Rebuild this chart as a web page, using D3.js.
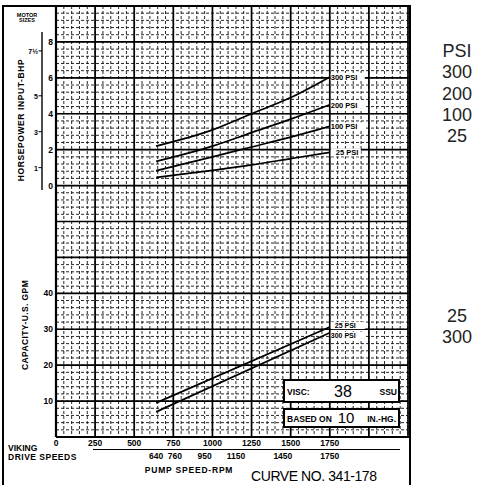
<!DOCTYPE html>
<html>
<head>
<meta charset="utf-8">
<script src="https://cdn.jsdelivr.net/npm/d3@7"></script>
<style>
  body { margin: 0; background: #fff; }
  text { font-family: "Liberation Sans", Arial, sans-serif; fill: #000; }
  .lbl { font-weight: bold; font-size: 8.5px; }
</style>
</head>
<body>
<div id="chart"></div>
<script>
// ---- data ----
var rpm = [640, 1000, 1250, 1500, 1750];
var hp300 = [2.2, 3.1, 4.0, 4.9, 6.05];
var hp200 = [1.35, 2.2, 2.95, 3.7, 4.5];
var hp100 = [0.83, 1.6, 2.15, 2.7, 3.3];
var hp25 = [0.45, 0.85, 1.15, 1.5, 1.85];
var hpNames = ["300 PSI", "200 PSI", "100 PSI", "25 PSI"];

var gpmRpm = [640, 1750];
var gpm25 = [9.5, 30.6];
var gpm300 = [7.0, 29.0];
var gpmNames = ["25 PSI", "300 PSI"];

var driveTicks = [0, 250, 500, 750, 1000, 1250, 1500, 1750];
var pumpTicks = [640, 760, 950, 1150, 1450, 1750];
var hpTicks = [0, 2, 4, 6, 8];
var gpmTicks = [10, 20, 30, 40];
var motorSizes = [7.5, 5, 3, 1];
var motorLabels = ["7½", "5", "3", "1"];

var sideTop = ["PSI", "300", "200", "100", "25"];
var sideBottom = ["25", "300"];

// ---- layout ----
var W = 479, H = 485;
var svg = d3.select("#chart").append("svg")
  .attr("width", W).attr("height", H);

var x = d3.scaleLinear().domain([0, 2250]).range([56, 408]);
var yGpm = d3.scaleLinear().domain([0, 120]).range([437, 6]);
var yHp = d3.scaleLinear().domain([-14, 10]).range([437, 6]);

// minor grid (dotted like the scan)
var grid = svg.append("g");
grid.selectAll(".vmin").data(d3.range(0, 2251, 50))
  .enter().append("line")
  .attr("x1", d => x(d)).attr("x2", d => x(d))
  .attr("y1", yGpm(120)).attr("y2", yGpm(0))
  .attr("stroke", "#111").attr("stroke-width", 0.9)
  .attr("stroke-dasharray", "3,2");
grid.selectAll(".hmin").data(d3.range(0, 121, 2))
  .enter().append("line")
  .attr("x1", x(0)).attr("x2", x(2250))
  .attr("y1", d => yGpm(d)).attr("y2", d => yGpm(d))
  .attr("stroke", "#111").attr("stroke-width", 0.9)
  .attr("stroke-dasharray", "3,2");

// major grid
grid.selectAll(".vmaj").data(d3.range(0, 2251, 250))
  .enter().append("line")
  .attr("x1", d => x(d)).attr("x2", d => x(d))
  .attr("y1", yGpm(120)).attr("y2", yGpm(0))
  .attr("stroke", "#000").attr("stroke-width", 1.7);
grid.selectAll(".hmaj").data(d3.range(0, 121, 10))
  .enter().append("line")
  .attr("x1", x(0)).attr("x2", x(2250))
  .attr("y1", d => yGpm(d)).attr("y2", d => yGpm(d))
  .attr("stroke", "#000").attr("stroke-width", 1.7);

// outer frame
svg.append("path")
  .attr("d", "M3,485 V6 H410 V485")
  .attr("fill", "none").attr("stroke", "#000").attr("stroke-width", 2);
svg.append("line")
  .attr("x1", x(0)).attr("x2", x(0)).attr("y1", 6).attr("y2", yGpm(0))
  .attr("stroke", "#000").attr("stroke-width", 2.2);
svg.append("line")
  .attr("x1", x(0)).attr("x2", 410).attr("y1", yGpm(0)).attr("y2", yGpm(0))
  .attr("stroke", "#000").attr("stroke-width", 2.2);

// ---- curves ----
var line = d3.line().curve(d3.curveMonotoneX);
var hpSeries = [hp300, hp200, hp100, hp25];
hpSeries.forEach(function(s, i) {
  svg.append("path")
    .attr("d", line(rpm.map((r, j) => [x(r), yHp(s[j])])))
    .attr("fill", "none").attr("stroke", "#000").attr("stroke-width", 1.7);
  svg.append("rect")
    .attr("x", x(1750) + 1).attr("y", yHp(s[s.length - 1]) - 4)
    .attr("width", i == 3 ? 30 : 34).attr("height", 8)
    .attr("fill", "#fff");
  svg.append("text").attr("class", "lbl")
    .attr("x", x(1750) + (i == 3 ? 6 : 1)).attr("y", yHp(s[s.length - 1]) + 3)
    .style("font-size", "7.5px")
    .text(hpNames[i]);
});

var gpmSeries = [gpm25, gpm300];
gpmSeries.forEach(function(s, i) {
  svg.append("path")
    .attr("d", line(gpmRpm.map((r, j) => [x(r), yGpm(s[j])])))
    .attr("fill", "none").attr("stroke", "#000").attr("stroke-width", 1.7);
  svg.append("rect")
    .attr("x", x(1750) + 1).attr("y", yGpm(s[s.length - 1]) + (i == 0 ? -5 : -1))
    .attr("width", 34).attr("height", 7)
    .attr("fill", "#fff");
  svg.append("text").attr("class", "lbl")
    .attr("x", x(1750) + (i == 0 ? 5 : 1)).attr("y", yGpm(s[s.length - 1]) + (i == 0 ? 1 : 5))
    .style("font-size", "7px")
    .text(gpmNames[i]);
});

// ---- axis tick labels ----
svg.selectAll(".hpt").data(hpTicks).enter().append("text").attr("class", "lbl")
  .attr("x", 53).attr("y", d => yHp(d) + 3)
  .attr("text-anchor", "end").text(d => d);
svg.selectAll(".gpt").data(gpmTicks).enter().append("text").attr("class", "lbl")
  .attr("x", 53).attr("y", d => yGpm(d) + 3)
  .attr("text-anchor", "end").text(d => d);

svg.selectAll(".dt").data(driveTicks).enter().append("text").attr("class", "lbl")
  .attr("x", d => x(d)).attr("y", 446)
  .attr("text-anchor", "middle").text(d => d);
svg.append("line")
  .attr("x1", 93).attr("x2", 400).attr("y1", 449.5).attr("y2", 449.5)
  .attr("stroke", "#000").attr("stroke-width", 1);
svg.selectAll(".pt").data(pumpTicks).enter().append("text").attr("class", "lbl")
  .attr("x", d => x(d)).attr("y", 459)
  .attr("text-anchor", "middle").text(d => d);

svg.append("text").attr("class", "lbl").attr("x", 8).attr("y", 451).text("VIKING");
svg.append("text").attr("class", "lbl").attr("x", 8).attr("y", 460)
  .style("letter-spacing", "0.5px").text("DRIVE SPEEDS");
svg.append("text").attr("class", "lbl").attr("x", 189).attr("y", 473)
  .attr("text-anchor", "middle").style("letter-spacing", "0.8px").text("PUMP SPEED-RPM");
svg.append("text").attr("x", 314).attr("y", 481)
  .attr("text-anchor", "middle").style("font-size", "14px")
  .attr("textLength", 126).text("CURVE NO. 341-178");

// ---- axis titles ----
svg.append("text").attr("class", "lbl")
  .attr("transform", "translate(24," + 120 + ") rotate(-90)")
  .attr("text-anchor", "middle").style("letter-spacing", "0.6px")
  .text("HORSEPOWER INPUT-BHP");
svg.append("text").attr("class", "lbl")
  .attr("transform", "translate(28," + 325 + ") rotate(-90)")
  .attr("text-anchor", "middle").style("letter-spacing", "0.4px")
  .text("CAPACITY-U.S. GPM");

// motor sizes
svg.append("text").attr("class", "lbl").attr("x", 27).attr("y", 17)
  .attr("text-anchor", "middle").style("font-size", "5.5px").text("MOTOR");
svg.append("text").attr("class", "lbl").attr("x", 27).attr("y", 22)
  .attr("text-anchor", "middle").style("font-size", "5.5px").text("SIZES");
svg.append("line")
  .attr("x1", 42).attr("x2", 42).attr("y1", 32).attr("y2", 190)
  .attr("stroke", "#000").attr("stroke-width", 1.4);
svg.selectAll(".ms").data(motorSizes).enter().append("line")
  .attr("x1", 38.5).attr("x2", 42).attr("y1", d => yHp(d)).attr("y2", d => yHp(d))
  .attr("stroke", "#000").attr("stroke-width", 1);
svg.selectAll(".msl").data(motorSizes).enter().append("text").attr("class", "lbl")
  .attr("x", 38).attr("y", d => yHp(d) + 3)
  .attr("text-anchor", "end").style("font-size", "7px")
  .text((d, i) => motorLabels[i]);

// ---- condition boxes ----
var boxes = [{ y: 380, h: 22 }, { y: 409, h: 18 }];
svg.selectAll(".box").data(boxes).enter().append("rect")
  .attr("x", 284).attr("y", d => d.y).attr("width", 115).attr("height", d => d.h)
  .attr("fill", "#fff").attr("stroke", "#000").attr("stroke-width", 2);
svg.append("text").attr("class", "lbl").attr("x", 287).attr("y", 395).text("VISC:");
svg.append("text").attr("x", 343).attr("y", 397).attr("text-anchor", "middle")
  .style("font-size", "16px").text("38");
svg.append("text").attr("class", "lbl").attr("x", 397).attr("y", 395)
  .attr("text-anchor", "end").text("SSU");
svg.append("text").attr("class", "lbl").attr("x", 287).attr("y", 422).text("BASED ON");
svg.append("text").attr("x", 346).attr("y", 423).attr("text-anchor", "middle")
  .style("font-size", "15px").text("10");
svg.append("text").attr("class", "lbl").attr("x", 396).attr("y", 422)
  .attr("text-anchor", "end").text("IN.-HG.");

// ---- side legend ----
svg.selectAll(".st").data(sideTop).enter().append("text")
  .attr("x", 457).attr("y", (d, i) => 57 + i * 21.3)
  .attr("text-anchor", "middle").style("font-size", "18px").style("fill", "#222")
  .text(d => d);
svg.selectAll(".sb").data(sideBottom).enter().append("text")
  .attr("x", 457).attr("y", (d, i) => 322 + i * 21.3)
  .attr("text-anchor", "middle").style("font-size", "18px").style("fill", "#222")
  .text(d => d);
</script>
</body>
</html>
